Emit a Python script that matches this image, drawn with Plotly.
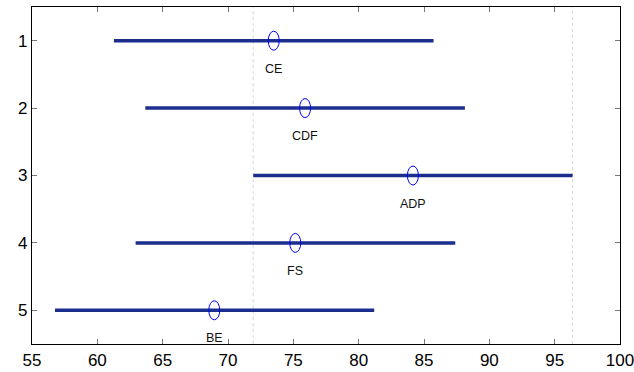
import plotly.graph_objects as go

groups = ["CE", "CDF", "ADP", "FS", "BE"]
rows = [1, 2, 3, 4, 5]
means = [73.5, 75.9, 84.15, 75.15, 68.95]
lower = [61.27, 63.67, 71.93, 62.93, 56.76]
upper = [85.73, 88.13, 96.37, 87.39, 81.19]
selected = 2  # index of highlighted group (ADP) whose bounds are marked
x_ticks = [55, 60, 65, 70, 75, 80, 85, 90, 95, 100]

line_color = "#1b2e8e"
fig = go.Figure()

for g, r, lo, hi in zip(groups, rows, lower, upper):
    fig.add_trace(go.Scatter(x=[lo, hi], y=[r, r], mode="lines",
                             line=dict(color=line_color, width=3.5),
                             showlegend=False, hoverinfo="skip"))

# reference dotted lines at selected group's interval bounds
for xv in (lower[selected], upper[selected]):
    fig.add_shape(type="line", xref="x", yref="paper", x0=xv, x1=xv, y0=0, y1=1,
                  line=dict(color="#d6d6d6", width=1, dash="dot"), layer="below")

# ellipse markers at means
for m, r in zip(means, rows):
    fig.add_shape(type="circle", xref="x", yref="y",
                  xsizemode="pixel", ysizemode="pixel",
                  xanchor=m, yanchor=r, x0=-5.5, x1=5.5, y0=-9.5, y1=9.5,
                  line=dict(color="#0000ff", width=1), fillcolor="rgba(0,0,0,0)")

for g, m, r in zip(groups, means, rows):
    fig.add_annotation(x=m, y=r, text=g, showarrow=False, yshift=-28,
                       font=dict(family="Liberation Sans, Arial", size=12.5, color="#111"))

fig.update_xaxes(range=[55, 100], tickvals=x_ticks, ticktext=[str(v) for v in x_ticks],
                 ticks="inside", ticklen=5, tickcolor="#777", showgrid=False, zeroline=False,
                 showline=True, linecolor="black", linewidth=1.3, mirror="allticks",
                 automargin=False, ticklabeloverflow="allow",
                 tickfont=dict(family="Liberation Sans, Arial", size=17, color="black"))
fig.update_yaxes(range=[5.5, 0.5], tickvals=rows, ticktext=[str(r) for r in rows],
                 ticks="inside", ticklen=5, tickcolor="#777", showgrid=False, zeroline=False,
                 showline=True, linecolor="black", linewidth=1.3, mirror="allticks",
                 automargin=False, ticklabeloverflow="allow",
                 tickfont=dict(family="Liberation Sans, Arial", size=17, color="black"))

fig.update_layout(width=634, height=372, margin=dict(l=32, r=14, t=7, b=28),
                  plot_bgcolor="white", paper_bgcolor="white")

fig.write_html("out.html")
